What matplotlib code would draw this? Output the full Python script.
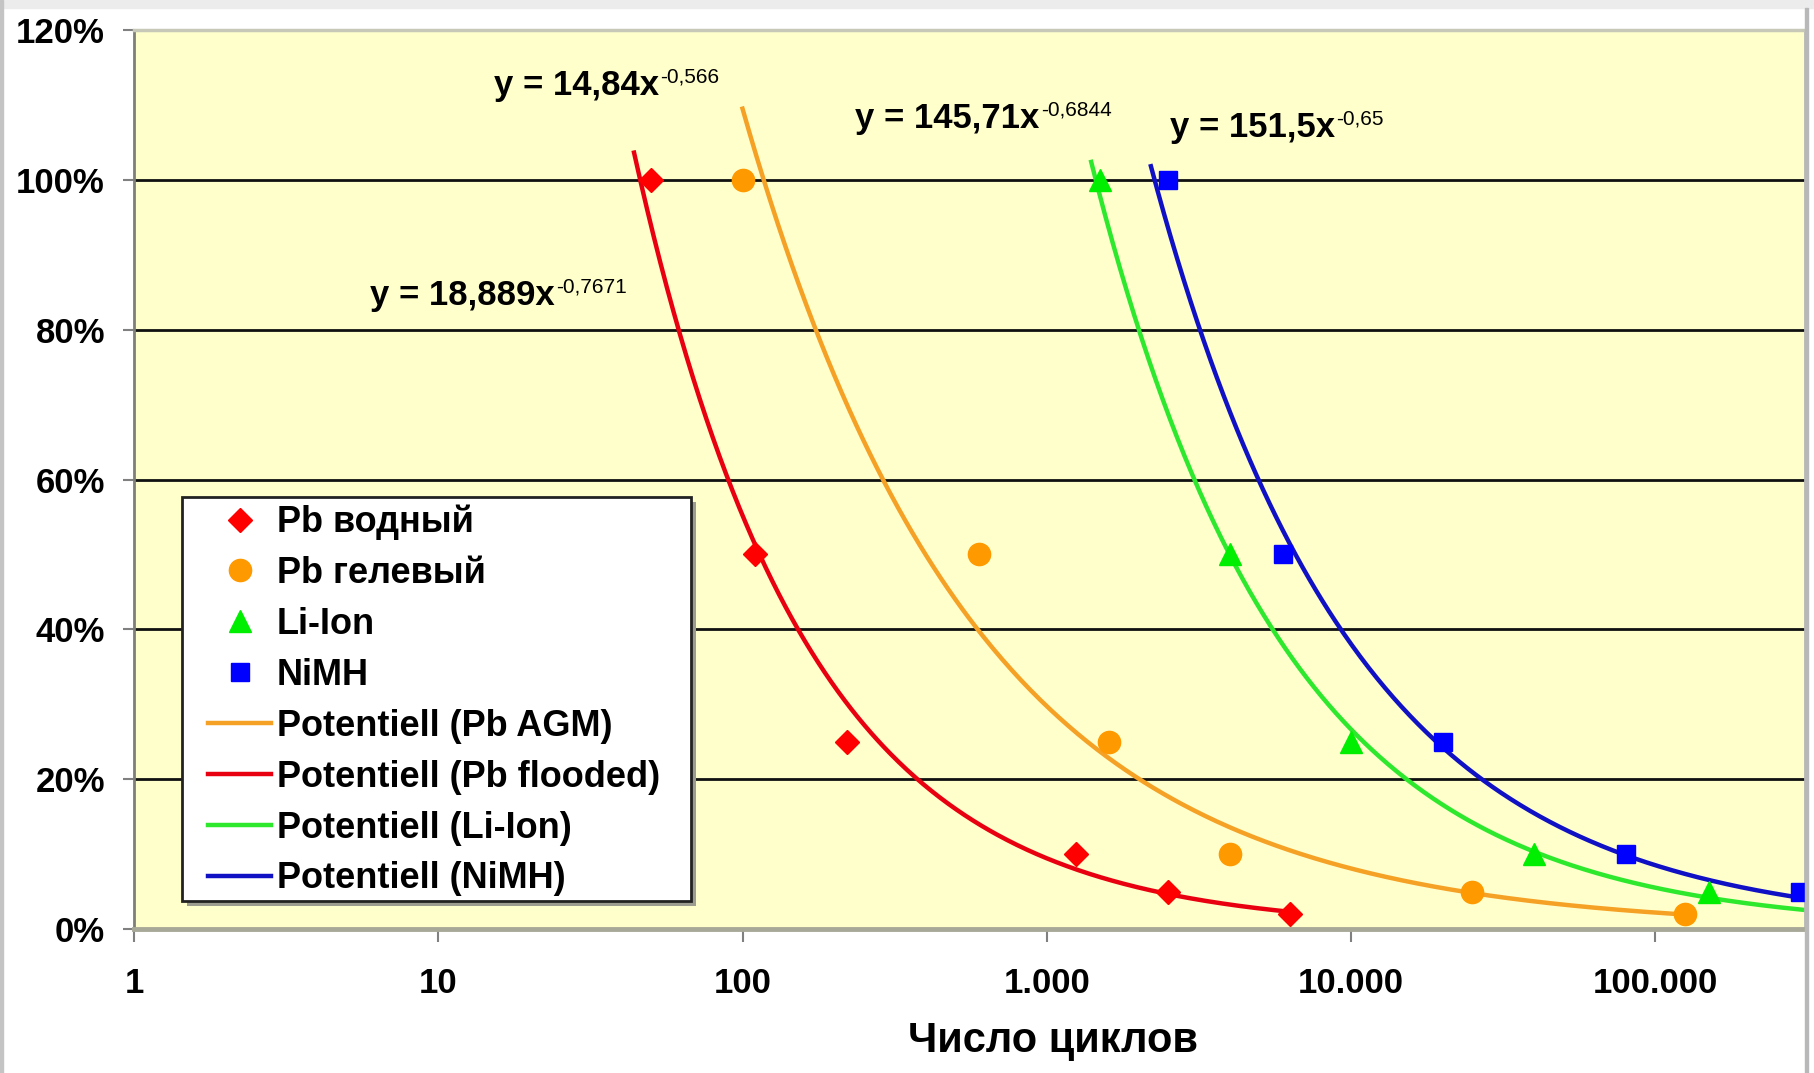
import matplotlib.pyplot as plt
import numpy as np
from matplotlib.ticker import FixedLocator, FuncFormatter, NullLocator
from matplotlib.patches import Rectangle

plt.rcParams['font.family'] = ['Liberation Sans', 'DejaVu Sans']
plt.rcParams['font.weight'] = 'bold'

# глубина разряда (доля) и число циклов для каждого типа
dod = [1.00, 0.50, 0.25, 0.10, 0.05, 0.02]
pb_flooded_x = [50, 110, 220, 1250, 2500, 6300]
pb_gel_x = [100, 600, 1600, 4000, 25000, 125000]
li_ion_x = [1500, 4000, 10000, 40000, 150000]
li_ion_y = [1.00, 0.50, 0.25, 0.10, 0.05]
nimh_x = [2500, 6000, 20000, 80000, 300000]
nimh_y = [1.00, 0.50, 0.25, 0.10, 0.05]

# степенные тренды y = a * x^b, коэффициенты как на графике
trend_names = ['Pb AGM', 'Pb flooded', 'Li-Ion', 'NiMH']
trend_a = [14.84, 18.889, 145.71, 151.5]
trend_b = [-0.566, -0.7671, -0.6844, -0.65]
trend_from = [100, 44, 1400, 2200]
trend_to = [125000, 6300, 320000, 320000]
trend_colors = ['#F5A125', '#E80010', '#2EE82E', '#1010C4']

eq_main = ['y = 14,84x', 'y = 18,889x', 'y = 145,71x', 'y = 151,5x']
eq_sup = ['-0,566', '-0,7671', '-0,6844', '-0,65']
eq_pos = [(0.2154, 0.928), (0.1412, 0.694), (0.4315, 0.891), (0.620, 0.881)]

fig = plt.figure(figsize=(18.14, 10.73), dpi=100)
ax = fig.add_axes([0.0739, 0.1342, 0.9212, 0.8378])
ax.set_facecolor('#FFFFCC')

# рамка картинки
fig.patches.append(Rectangle((0, 1 - 8 / 1073), 1, 8 / 1073, transform=fig.transFigure, color='#ececec'))
fig.patches.append(Rectangle((0, 0), 3 / 1814, 1, transform=fig.transFigure, color='#c4c4c4'))
fig.patches.append(Rectangle((1805 / 1814, 0), 3 / 1814, 1 - 8 / 1073, transform=fig.transFigure, color='#b8b8b8'))

ax.set_xscale('log')
ax.set_xlim(1, 3.11e5)
ax.set_ylim(0, 1.2)

for yv in [0.2, 0.4, 0.6, 0.8, 1.0]:
    ax.axhline(yv, color='#111111', lw=2, zorder=1)

line_handles = []
for i in range(4):
    xs = np.geomspace(trend_from[i], trend_to[i], 400)
    ln, = ax.plot(xs, trend_a[i] * xs ** trend_b[i], color=trend_colors[i], lw=3.2, zorder=2,
                  label='Potentiell (' + trend_names[i] + ')')
    line_handles.append(ln)

m1, = ax.plot(pb_flooded_x, dod, 'D', color='#FF0000', ms=12, ls='none', zorder=3, label='Pb водный')
m2, = ax.plot(pb_gel_x, dod, 'o', color='#FF9900', ms=16, ls='none', zorder=3, label='Pb гелевый')
m3, = ax.plot(li_ion_x, li_ion_y, '^', color='#00EE00', ms=16, ls='none', zorder=3, label='Li-Ion')
m4, = ax.plot(nimh_x, nimh_y, 's', color='#0000FF', ms=13, ls='none', zorder=3, label='NiMH')

# подписи уравнений
for i in range(4):
    t = ax.text(eq_pos[i][0], eq_pos[i][1], eq_main[i], transform=ax.transAxes,
                fontsize=25, va='baseline', ha='left', zorder=5)
    ax.annotate(eq_sup[i], xy=(1, 1), xycoords=t, xytext=(1, 1), textcoords='offset points',
                fontsize=15, fontweight='normal', va='top', ha='left', zorder=5)

ax.xaxis.set_major_locator(FixedLocator([1, 10, 100, 1e3, 1e4, 1e5]))
ax.xaxis.set_minor_locator(NullLocator())
ax.xaxis.set_major_formatter(FuncFormatter(lambda v, p: f'{int(round(v)):,}'.replace(',', '.')))
ax.set_yticks(np.arange(0, 1.21, 0.2))
ax.yaxis.set_major_formatter(FuncFormatter(lambda v, p: f'{v * 100:.0f}%'))

ax.tick_params(axis='y', length=8, width=1.5, color='#808080', pad=13, labelsize=25)
ax.tick_params(axis='x', length=9, width=1.5, color='#808080', pad=18, labelsize=25)

ax.spines['left'].set_color('#7f7f77')
ax.spines['left'].set_linewidth(2)
ax.spines['bottom'].set_color('#a8a898')
ax.spines['bottom'].set_linewidth(3.5)
ax.spines['top'].set_color('#c8c8b8')
ax.spines['top'].set_linewidth(2.5)
ax.spines['right'].set_color('#b8b8b8')
ax.spines['right'].set_linewidth(2)

ax.set_xlabel('Число циклов', fontsize=30, fontweight='bold')
ax.xaxis.set_label_coords(0.55, -0.102)

# рамка легенды с тенью
box_x0, box_y0, box_x1, box_y1 = 0.0287, 0.0311, 0.3333, 0.4805
ax.add_patch(Rectangle((box_x0 + 0.003, box_y0 - 0.005), box_x1 - box_x0, box_y1 - box_y0,
                       transform=ax.transAxes, facecolor='#9c9c90', edgecolor='none',
                       zorder=8, clip_on=False))
ax.add_patch(Rectangle((box_x0, box_y0), box_x1 - box_x0, box_y1 - box_y0,
                       transform=ax.transAxes, facecolor='white', edgecolor='#222222',
                       lw=2, zorder=9, clip_on=False))

leg = ax.legend(handles=[m1, m2, m3, m4] + line_handles, loc='upper left',
                bbox_to_anchor=(0.0443, 0.472), borderaxespad=0, borderpad=0, fontsize=26,
                numpoints=1, handlelength=1.75, handletextpad=0.15, labelspacing=0.44,
                frameon=False)
leg.set_zorder(10)

fig.savefig('out.png', dpi=100)
